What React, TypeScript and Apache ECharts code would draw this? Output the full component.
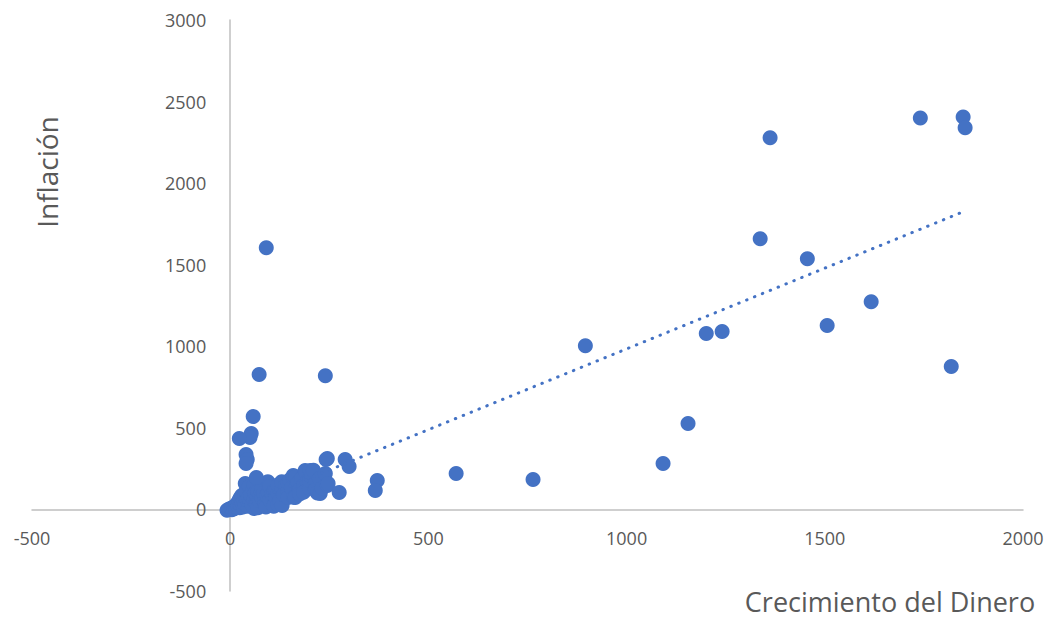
import React, { useEffect, useRef } from "react";
import * as echarts from "echarts";

// Crecimiento del Dinero (x) vs Inflación (y)
const outlierPoints: number[][] = [
  [1741, 2400], [1849, 2405], [1854, 2339], [1362, 2278], [1337, 1659],
  [1456, 1537], [1617, 1273], [1506, 1127], [1241, 1090], [1201, 1078],
  [896, 1004], [1819, 876], [1155, 527], [1092, 282], [764, 184],
  [570, 220], [371, 178], [366, 116], [91, 1604], [73, 827],
  [240, 820], [58, 569], [53, 465], [50, 441], [23, 435],
  [40, 337], [43, 306], [40, 282], [290, 306], [300, 263],
  [242, 306], [275, 104], [66, 196],
];

const clusterPoints: number[][] = [
  [-8, -5], [-3, 2], [0, 0], [2, 5], [4, -2], [5, 10], [7, 3], [9, 15], [10, 6],
  [12, 20], [14, 8], [15, 30], [17, 12], [19, 40], [20, 18], [22, 55], [24, 10],
  [25, 70], [27, 25], [29, 85], [30, 35], [32, 15], [34, 50], [36, 95], [38, 30],
  [38, 159], [40, 110], [42, 60], [44, 20], [46, 75], [48, 140], [50, 45], [52, 90],
  [55, 30], [58, 120], [60, 60], [60, 150], [60, 5], [63, 100], [65, 40], [68, 80],
  [70, 110], [70, 10], [73, 55], [76, 90], [80, 70], [80, 130], [84, 100], [88, 37],
  [90, 15], [92, 85], [95, 170], [96, 105], [100, 60], [100, 140], [105, 95],
  [110, 110], [110, 20], [114, 116], [115, 75], [120, 100], [120, 150], [120, 30],
  [125, 50], [130, 120], [130, 170], [131, 24], [135, 90], [140, 150], [145, 110],
  [146, 73], [146, 159], [150, 180], [155, 130], [159, 196], [159, 208], [160, 75],
  [164, 73], [165, 200], [170, 160], [175, 120], [175, 95], [180, 190], [185, 145],
  [185, 105], [189, 239], [190, 230], [195, 170], [200, 130], [200, 175], [202, 239],
  [205, 200], [210, 240], [215, 160], [215, 120], [220, 100], [225, 190], [227, 98],
  [232, 130], [240, 220], [245, 147], [245, 312], [247, 159],
];

const xTicks = { min: -500, max: 2000, interval: 500 };
const yTicks = { min: -500, max: 3000, interval: 500 };

// Linear trend line: y = slope * x + intercept
const trendSlope = 0.99;
const trendIntercept = -6;

const xTitle = "Crecimiento del Dinero";
const yTitle = "Inflación";

const W = 1052;
const H = 618;
const GRID = { left: 32, right: 29, top: 20, bottom: 27 };

export default function App() {
  const ref = useRef<HTMLDivElement>(null);

  useEffect(() => {
    if (!ref.current) return;
    const chart = echarts.init(ref.current, undefined, { renderer: "svg" });
    const all = [...clusterPoints, ...outlierPoints];
    const xs = all.map((p) => p[0]);
    const xMin = Math.min(...xs);
    const xMax = Math.max(...xs);
    const trend = [
      [xMin, trendSlope * xMin + trendIntercept],
      [xMax, trendSlope * xMax + trendIntercept],
    ];
    // place the axes (line + labels) where the other axis crosses zero
    const gridW = W - GRID.left - GRID.right;
    const gridH = H - GRID.top - GRID.bottom;
    const xAxisOffset = -gridH * (0 - yTicks.min) / (yTicks.max - yTicks.min);
    const yAxisOffset = -gridW * (0 - xTicks.min) / (xTicks.max - xTicks.min);

    const font = "'Open Sans', 'Noto Sans', sans-serif";
    const labelStyle = { color: "#595959", fontSize: 18, fontFamily: font };
    chart.setOption({
      animation: false,
      backgroundColor: "#ffffff",
      grid: { ...GRID, containLabel: false, outerBoundsMode: "none" },
      xAxis: {
        type: "value",
        position: "bottom",
        offset: xAxisOffset,
        min: xTicks.min,
        max: xTicks.max,
        interval: xTicks.interval,
        axisLine: { show: true, onZero: false, lineStyle: { color: "#BFBFBF", width: 1.5 } },
        axisTick: { show: false },
        splitLine: { show: false },
        axisLabel: { ...labelStyle, margin: 20, formatter: (v: number) => String(v) },
      },
      yAxis: {
        type: "value",
        position: "left",
        offset: yAxisOffset,
        min: yTicks.min,
        max: yTicks.max,
        interval: yTicks.interval,
        axisLine: { show: true, onZero: false, lineStyle: { color: "#BFBFBF", width: 1.5 } },
        axisTick: { show: false },
        splitLine: { show: false },
        axisLabel: { ...labelStyle, margin: 24, formatter: (v: number) => String(v) },
      },
      graphic: [
        {
          type: "text",
          x: 47,
          y: 172,
          rotation: Math.PI / 2,
          style: {
            text: yTitle,
            fill: "#595959",
            fontSize: 28,
            fontFamily: font,
            align: "center",
            verticalAlign: "middle",
          },
        },
        {
          type: "text",
          x: 890,
          y: 601,
          style: {
            text: xTitle,
            fill: "#595959",
            fontSize: 27,
            fontFamily: font,
            align: "center",
            verticalAlign: "middle",
          },
        },
      ],
      series: [
        {
          type: "scatter",
          data: all,
          symbol: "circle",
          symbolSize: 15,
          itemStyle: { color: "#4472C4", opacity: 1 },
          z: 2,
        },
        {
          type: "line",
          data: trend,
          showSymbol: false,
          symbol: "none",
          silent: true,
          lineStyle: { color: "#4472C4", width: 3, type: [0.5, 8], cap: "round" },
          z: 3,
        },
      ],
    });
    return () => chart.dispose();
  }, []);

  return (
    <div
      ref={ref}
      style={{ position: "fixed", left: 0, top: 0, width: W, height: H, background: "#fff" }}
    />
  );
}
